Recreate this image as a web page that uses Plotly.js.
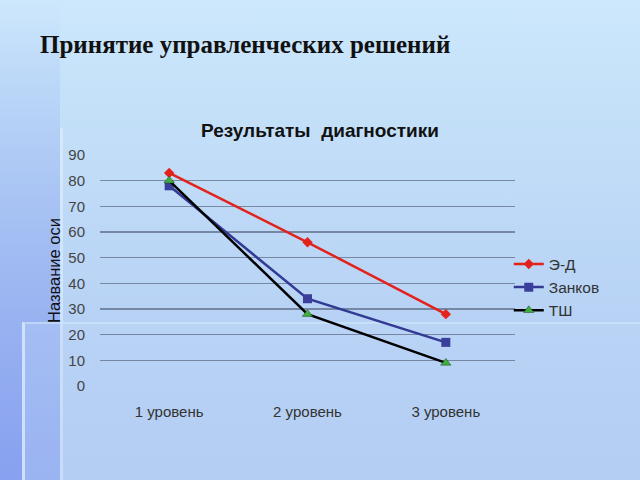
<!DOCTYPE html>
<html>
<head>
<meta charset="utf-8">
<script src="https://cdn.plot.ly/plotly-3.0.1.min.js"></script>
<style>
html,body{margin:0;padding:0;width:640px;height:480px;overflow:hidden;}
body{background:linear-gradient(to bottom,#cde8fc 0%,#bfdcf7 35%,#b1cdf3 70%,#a8c2f0 100%);position:relative;}
#leftband{position:absolute;left:0;top:0;width:60px;height:480px;background:linear-gradient(to bottom,rgba(160,190,240,0) 0%,rgba(140,165,240,0.6) 60%,rgba(130,155,240,0.85) 100%);}
#panel1{position:absolute;left:60px;top:128px;width:580px;height:352px;background:rgba(200,225,250,0.22);border-left:3px solid rgba(225,240,255,0.6);}
#panel2{position:absolute;left:22px;top:322px;width:618px;height:158px;background:rgba(190,215,245,0.35);border-left:3px solid rgba(220,235,255,0.8);border-top:2px solid rgba(215,235,250,0.5);}
#chart{position:absolute;left:0;top:0;width:640px;height:480px;}
</style>
</head>
<body>
<div id="leftband"></div>
<div id="panel1"></div>
<div id="panel2"></div>
<div id="chart"></div>
<script>
const categories = ["1 уровень", "2 уровень", "3 уровень"];
const seriesNames = ["Э-Д", "Занков", "ТШ"];
const valuesED = [83, 56, 28];
const valuesZankov = [78, 34, 17];
const valuesTSh = [80, 28, 9];
const yTicks = [0, 10, 20, 30, 40, 50, 60, 70, 80, 90];

const traces = [
  {x: categories, y: valuesED, name: seriesNames[0], type: "scatter", mode: "lines+markers",
   line: {color: "#e3221c", width: 2.5}, marker: {symbol: "diamond", size: 8, color: "#e3221c"}},
  {x: categories, y: valuesZankov, name: seriesNames[1], type: "scatter", mode: "lines+markers",
   line: {color: "#323a94", width: 2.5}, marker: {symbol: "square", size: 9, color: "#3a3f9c"}},
  {x: categories, y: valuesTSh, name: seriesNames[2], type: "scatter", mode: "lines+markers",
   line: {color: "#000000", width: 2.5}, marker: {symbol: "triangle-up", size: 9, color: "#3fae3f", line: {color: "#1a4a1a", width: 0.5}}}
];

const layout = {
  width: 640, height: 480,
  paper_bgcolor: "rgba(0,0,0,0)", plot_bgcolor: "rgba(0,0,0,0)",
  margin: {l: 100, r: 125, t: 155, b: 94, pad: 0},
  font: {family: "Liberation Sans, Arial, sans-serif", color: "#333333", size: 15},
  title: {text: "<b>Результаты  диагностики</b>", font: {family: "Liberation Sans, Arial, sans-serif", size: 19, color: "#111111"},
          x: (320 - 100) / 415, xref: "paper", xanchor: "center", y: 1 - 130/480, yref: "container", yanchor: "middle"},
  xaxis: {type: "category", range: [-0.5, 2.5], showgrid: false, zeroline: false, showline: false,
          ticks: "", tickfont: {size: 15, color: "#333333"}, ticklabelstandoff: 15, fixedrange: true},
  yaxis: {range: [0, 90], tickvals: yTicks, showgrid: true, gridcolor: "rgba(95,110,135,0.75)", gridwidth: 1.2,
          zeroline: false, showline: false, ticks: "", tickfont: {size: 15, color: "#444444"}, ticklabelstandoff: 14,
          title: {text: "Название оси", font: {size: 16.5, color: "#111111"}, standoff: 3}, fixedrange: true},
  legend: {x: 0.985, y: 0.6, xanchor: "left", yanchor: "top", bgcolor: "rgba(0,0,0,0)",
           font: {size: 15.5, color: "#333333"}, itemwidth: 30, tracegroupgap: 0},
  annotations: [
    {text: "<b>Принятие управленческих решений</b>", xref: "paper", yref: "paper",
     x: -62/415, y: (386-45)/231, xanchor: "left", yanchor: "middle", showarrow: false,
     font: {family: "Liberation Serif, Times New Roman, serif", size: 25, color: "#111111"}}
  ],
  showlegend: true
};
Plotly.newPlot("chart", traces, layout, {displayModeBar: false, staticPlot: true});
</script>
</body>
</html>
